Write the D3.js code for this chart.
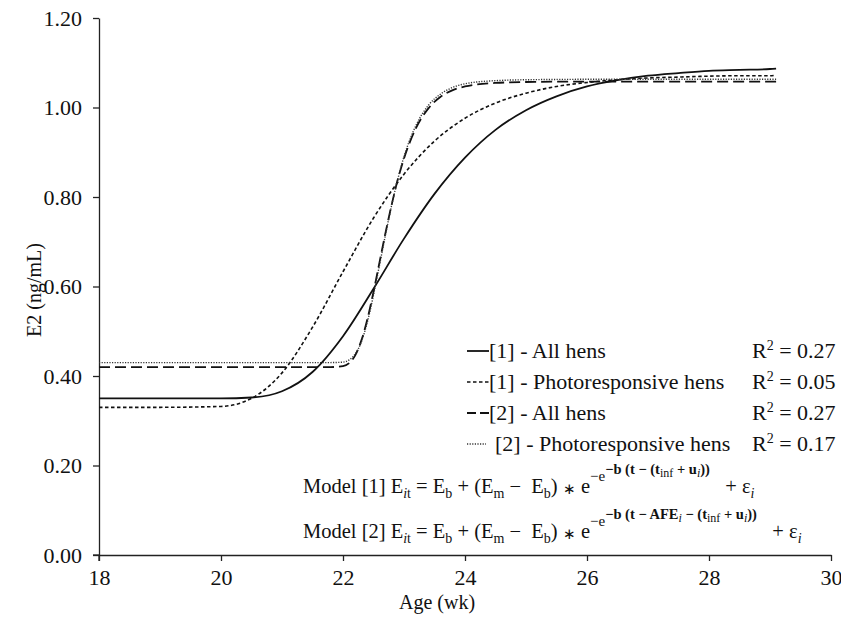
<!DOCTYPE html>
<html>
<head>
<meta charset="utf-8">
<script src="https://cdn.jsdelivr.net/npm/d3@7"></script>
<style>
  body { margin: 0; background: #fff; }
  svg text { font-family: "Liberation Serif", "Times New Roman", serif; }
</style>
</head>
<body>
<svg id="chart" width="841" height="621"></svg>
<script>
let edades = [18, 19, 20, 20.5, 21, 21.5, 22, 22.5, 23, 23.5, 24, 24.5, 25, 25.5, 26, 26.5, 27, 27.5, 28, 28.5, 29, 29.1];
let modelo1Todas = [0.350, 0.350, 0.350, 0.352, 0.366, 0.409, 0.489, 0.595, 0.707, 0.807, 0.888, 0.950, 0.994, 1.025, 1.047, 1.061, 1.071, 1.077, 1.082, 1.084, 1.086, 1.087];
let modelo1Foto = [0.330, 0.330, 0.332, 0.350, 0.407, 0.509, 0.633, 0.753, 0.851, 0.925, 0.976, 1.010, 1.032, 1.047, 1.056, 1.062, 1.066, 1.068, 1.070, 1.071, 1.071, 1.072];

// model [2] rises fast, so more points around 22-24 wk
let edades2 = [18, 19, 20, 21, 21.5, 21.8, 22, 22.2, 22.3, 22.4, 22.5, 22.6, 22.7, 22.8, 22.9, 23, 23.2, 23.4, 23.6, 23.8, 24, 24.5, 25, 26, 27, 28, 29.1];
let modelo2Todas = [0.420, 0.420, 0.420, 0.420, 0.420, 0.420, 0.422, 0.446, 0.479, 0.527, 0.588, 0.655, 0.722, 0.784, 0.840, 0.886, 0.955, 0.998, 1.024, 1.039, 1.047, 1.055, 1.057, 1.058, 1.058, 1.058, 1.058];
let modelo2Foto = [0.430, 0.430, 0.430, 0.430, 0.430, 0.430, 0.431, 0.449, 0.476, 0.521, 0.581, 0.649, 0.718, 0.783, 0.841, 0.890, 0.961, 1.005, 1.030, 1.045, 1.053, 1.060, 1.062, 1.063, 1.063, 1.063, 1.063];

let ticksX = [18, 20, 22, 24, 26, 28, 30];
let ticksY = [0, 0.2, 0.4, 0.6, 0.8, 1.0, 1.2];
let etiquetas = ["[1] - All hens", "[1] - Photoresponsive hens", "[2] - All hens", "[2] - Photoresponsive hens"];
let r2 = ["0.27", "0.05", "0.27", "0.17"];

let svg = d3.select("#chart");

let x = d3.scaleLinear().domain([18, 30]).range([99, 831]);
let y = d3.scaleLinear().domain([0, 1.2]).range([555, 18]);

// ejes
let ejeX = svg.append("g")
    .attr("transform", "translate(0,555)")
    .call(d3.axisBottom(x).tickValues(ticksX).tickSize(6).tickSizeOuter(0).tickFormat(d3.format("d")));
let ejeY = svg.append("g")
    .attr("transform", "translate(99,0)")
    .call(d3.axisLeft(y).tickValues(ticksY).tickSize(6).tickSizeOuter(0).tickFormat(d3.format(".2f")));

[ejeX, ejeY].forEach(g => {
    g.attr("font-family", null).attr("font-size", null);
    g.select(".domain").attr("stroke", "#222").attr("stroke-width", 1.3);
    g.selectAll(".tick line").attr("stroke", "#222").attr("stroke-width", 1.3);
    g.selectAll("text")
        .attr("fill", "#111")
        .style("font-size", "22px");
});
ejeX.selectAll("text").attr("y", 30).attr("dy", 0);
ejeY.selectAll("text").attr("x", -17);
// y axis line goes a bit below the x axis, like the original
ejeY.append("line").attr("x1", 0).attr("x2", 0).attr("y1", 555).attr("y2", 561).attr("stroke", "#222").attr("stroke-width", 1.3);
ejeX.append("line").attr("x1", 93).attr("x2", 99).attr("y1", 0).attr("y2", 0).attr("stroke", "#222").attr("stroke-width", 1.3);

svg.append("text")
    .attr("x", 437).attr("y", 609)
    .attr("text-anchor", "middle")
    .style("font-size", "20px").attr("fill", "#111")
    .text("Age (wk)");

svg.append("text")
    .attr("transform", "translate(41,290) rotate(-90)")
    .attr("text-anchor", "middle")
    .style("font-size", "20px").attr("fill", "#111")
    .text("E2 (ng/mL)");

// curvas
let series = [
    { t: edades, v: modelo1Todas, dash: null, w: 1.8, color: "#111" },
    { t: edades, v: modelo1Foto, dash: "3.5,2.5", w: 1.6, color: "#111" },
    { t: edades2, v: modelo2Todas, dash: "11,5", w: 1.8, color: "#111" },
    { t: edades2, v: modelo2Foto, dash: "1.2,1.4", w: 1.4, color: "#333" }
];

let linea = d3.line()
    .x(d => x(d[0]))
    .y(d => y(d[1]))
    .curve(d3.curveMonotoneX);

svg.selectAll("path.curva")
    .data(series)
    .enter()
    .append("path")
    .attr("class", "curva")
    .attr("fill", "none")
    .attr("stroke", d => d.color)
    .attr("stroke-width", d => d.w)
    .attr("stroke-dasharray", d => d.dash)
    .attr("d", d => linea(d.t.map((t, i) => [t, d.v[i]])));

// leyenda
let filaY = [351, 382, 413, 444];
let leyenda = svg.selectAll("g.leyenda")
    .data(etiquetas)
    .enter()
    .append("g")
    .attr("class", "leyenda")
    .attr("transform", (d, i) => "translate(0," + filaY[i] + ")");

leyenda.append("line")
    .attr("x1", 467)
    .attr("x2", (d, i) => i == 3 ? 486 : 489)
    .attr("y1", 0).attr("y2", 0)
    .attr("stroke", (d, i) => series[i].color)
    .attr("stroke-width", (d, i) => series[i].w)
    .attr("stroke-dasharray", (d, i) => i == 2 ? "9,4" : series[i].dash);

leyenda.append("text")
    .attr("x", (d, i) => i == 3 ? 495 : 489)
    .attr("y", 7)
    .style("font-size", "22px").attr("fill", "#111")
    .text(d => d);

let r2Text = leyenda.append("text")
    .attr("x", 752)
    .attr("y", 7)
    .style("font-size", "22px").attr("fill", "#111");
r2Text.append("tspan").text("R");
r2Text.append("tspan").attr("dy", -8).style("font-size", "14px").text("2");
r2Text.append("tspan").attr("dy", 8).text((d, i) => " = " + r2[i]);

// ecuaciones
// niveles: 0 = base, 1 = subindice, 2 = super, 3 = super del super, 4 = sub dentro del super, 5 = asterisco
let desplaz = { 0: 0, 1: 5, 2: -12, 3: -19, 4: -16, 5: 1 };
let tam = { 0: 20.5, 1: 14, 2: 15, 3: 14.5, 4: 12, 5: 15 };

function ecuacion(ybase, partes) {
    let t = svg.append("text")
        .attr("x", 303).attr("y", ybase)
        .attr("fill", "#111");
    partes.forEach(p => {
        t.append("tspan")
            .attr("y", ybase + desplaz[p[1]])
            .style("font-size", tam[p[1]] + "px")
            .style("font-style", p[2] ? "italic" : "normal")
            .style("font-weight", p[3] ? "bold" : "normal")
            .style("white-space", "pre")
            .text(p[0]);
    });
}

ecuacion(493, [
    ["Model [1] E", 0], ["i", 1, true], ["t", 1], [" = E", 0], ["b", 1], [" + (E", 0], ["m", 1],
    [" \u2212  E", 0], ["b", 1], [") ", 0], ["\u2217", 5], [" e", 0], ["\u2212e", 2], ["\u2212b (t \u2212 (t", 3, false, true], ["inf", 4],
    [" + u", 3, false, true], ["i", 4, true], ["))", 3, false, true], ["   + \u03b5", 0], ["i", 1, true]
]);

ecuacion(538, [
    ["Model [2] E", 0], ["i", 1, true], ["t", 1], [" = E", 0], ["b", 1], [" + (E", 0], ["m", 1],
    [" \u2212  E", 0], ["b", 1], [") ", 0], ["\u2217", 5], [" e", 0], ["\u2212e", 2], ["\u2212b (t \u2212 AFE", 3, false, true], ["i", 4, true],
    [" \u2212 (t", 3, false, true], ["inf", 4], [" + u", 3, false, true], ["i", 4, true], ["))", 3, false, true],
    ["   + \u03b5", 0], ["i", 1, true]
]);
</script>
</body>
</html>
